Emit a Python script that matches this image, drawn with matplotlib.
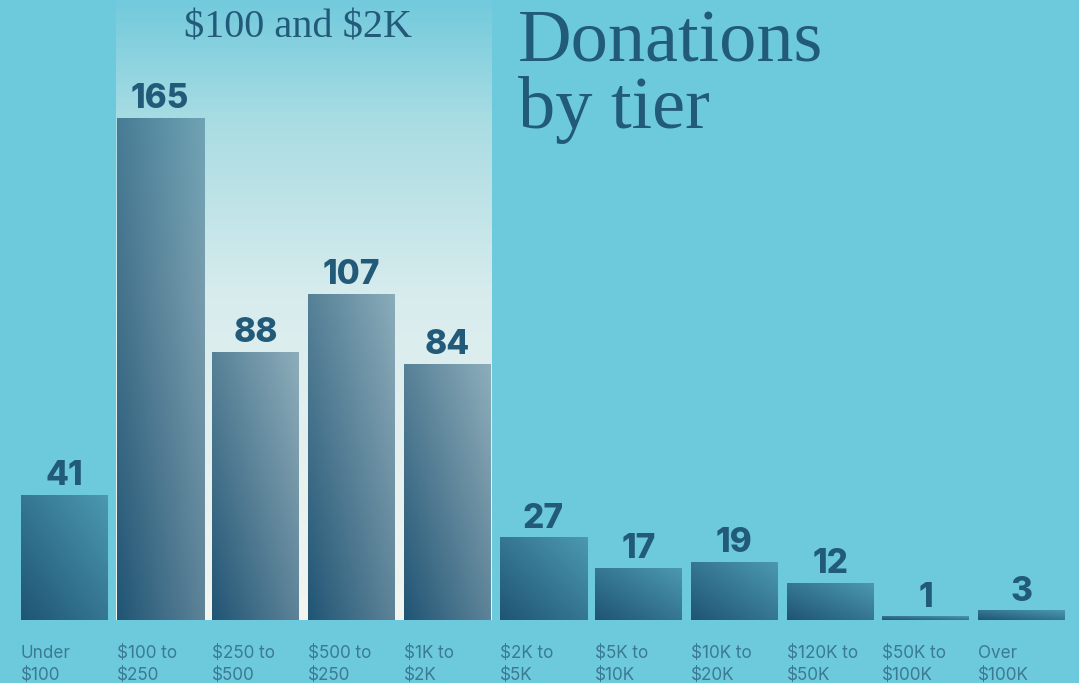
import numpy as np
import matplotlib
matplotlib.use("Agg")
import matplotlib.pyplot as plt
from matplotlib.colors import to_rgb, LinearSegmentedColormap

# ---- data ----
categories = ["Under\n$100", "$100 to\n$250", "$250 to\n$500", "$500 to\n$250", "$1K to\n$2K",
              "$2K to\n$5K", "$5K to\n$10K", "$10K to\n$20K", "$120K to\n$50K", "$50K to\n$100K",
              "Over\n$100K"]
counts = [41, 165, 88, 107, 84, 27, 17, 19, 12, 1, 3]
highlight_range = (1, 4)  # indices of bars inside the "$100 and $2K" band
title_lines = ["Donations", "by tier"]
band_label = "$100 and $2K"

# ---- style ----
BG = "#6ccadc"
DARK = "#1f5474"
TEXT_DARK = "#225a79"
LABEL_COL = "#3b7a91"
W, H = 1079, 683
fig = plt.figure(figsize=(W / 100, H / 100), dpi=100, facecolor=BG)
ax = fig.add_axes([0, 0, 1, 1])
ax.set_facecolor(BG)
ax.axis("off")

step_px = 95.7
ppu = 502 / 165.0
base_px = 620
ax.set_xlim(-64.5 / step_px, (W - 64.5) / step_px)
ax.set_ylim(-(H - base_px) / ppu, base_px / ppu)
ytop = base_px / ppu

bw = 87 / step_px
x = np.arange(len(counts))

# highlight band with vertical gradient
h0, h1 = highlight_range
stops = [(0.0, "#72cadc"), (0.19, "#a8dce3"), (0.48, "#d8eced"), (1.0, "#f3f5f0")]
band_cmap = LinearSegmentedColormap.from_list("band", stops)
grad = np.linspace(0, 1, 256).reshape(-1, 1)
ax.imshow(grad, cmap=band_cmap, aspect="auto", origin="upper",
          extent=(h0 - bw / 2 - 1 / step_px, h1 + bw / 2, 0, ytop), zorder=1,
          interpolation="bicubic")

# bars with diagonal gradient (dark bottom-left -> translucent top-right)
bars = ax.bar(x, counts, width=bw, color="none", edgecolor="none", zorder=2)
n = 128
u = np.linspace(0, 1, n)[None, :]
v = np.linspace(1, 0, n)[:, None]
t = (u + v) / 2
rgb = np.array(to_rgb(DARK))
img = np.zeros((n, n, 4))
img[..., :3] = rgb
img[..., 3] = 1.0 - 0.58 * t
for b, val in zip(bars, counts):
    x0 = b.get_x()
    ax.imshow(img, aspect="auto", origin="upper",
              extent=(x0, x0 + b.get_width(), 0, b.get_height()),
              zorder=3, interpolation="bilinear")
    ax.text(x0 + b.get_width() / 2, val + 10 / ppu, str(val), ha="center", va="baseline",
            fontsize=24, fontweight="heavy", family="Inter", color=TEXT_DARK, zorder=5)

# category labels (two lines, left aligned under bar)
for b, cat in zip(bars, categories):
    ax.text(b.get_x(), -25 / ppu, cat, ha="left", va="top", fontsize=12.3,
            family="Inter", color=LABEL_COL, linespacing=1.42, parse_math=False, zorder=5)

# band label
ax.text((h0 + h1) / 2 - 6 / step_px, ytop - 37 / ppu, band_label, ha="center", va="baseline",
        fontsize=29, family="Liberation Serif", color=TEXT_DARK, parse_math=False, zorder=5)

# title
fig.text(518 / W, 1 - 61 / H, title_lines[0], ha="left", va="baseline", fontsize=53.5,
         family="Liberation Serif", color=TEXT_DARK)
fig.text(518 / W, 1 - 128 / H, title_lines[1], ha="left", va="baseline", fontsize=53.5,
         family="Liberation Serif", color=TEXT_DARK)

fig.savefig("out.png", dpi=100, facecolor=BG)
